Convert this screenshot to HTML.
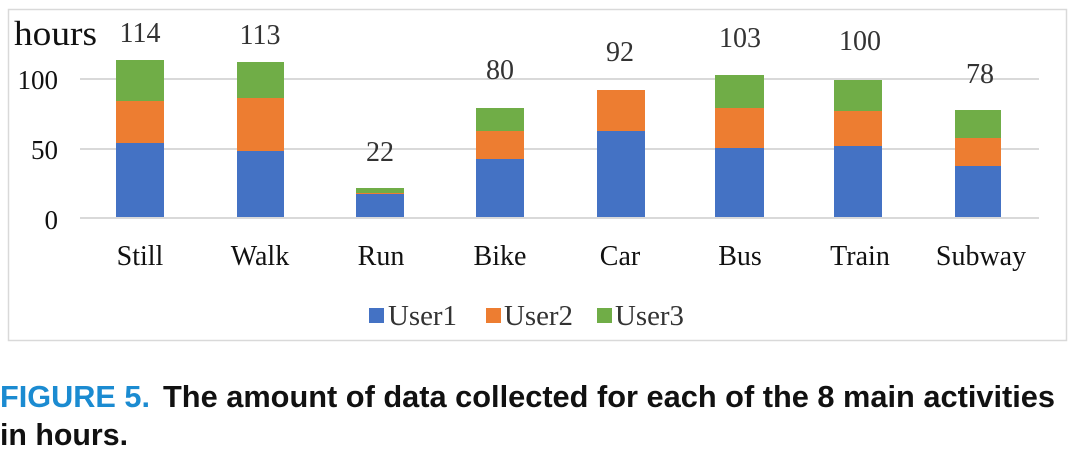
<!DOCTYPE html><html><head><style>body{margin:0;background:#fff;width:1073px;height:455px;overflow:hidden}</style></head><body>
<svg width="1073" height="455" xmlns="http://www.w3.org/2000/svg" font-family="Liberation Serif, serif">
<rect x="8.5" y="9.5" width="1058" height="331" fill="#fff" stroke="#d9d9d9" stroke-width="1.5"/>
<g stroke="#d9d9d9" stroke-width="2"><line x1="80" y1="79" x2="1039" y2="79"/><line x1="80" y1="149" x2="1039" y2="149"/><line x1="80" y1="218" x2="1039" y2="218"/></g>
<g font-size="27" fill="#111" text-anchor="end"><text x="58" y="89">100</text><text x="58" y="159">50</text><text x="58" y="229">0</text></g>
<text x="14" y="45" font-size="35" fill="#111" textLength="83" lengthAdjust="spacingAndGlyphs">hours</text>
<g>
<rect x="116" y="143" width="48" height="74" fill="#4472c4"/><rect x="116" y="101" width="48" height="42" fill="#ed7d31"/><rect x="116" y="60" width="48" height="41" fill="#70ad47"/>
<rect x="237" y="151" width="47" height="66" fill="#4472c4"/><rect x="237" y="98" width="47" height="53" fill="#ed7d31"/><rect x="237" y="62" width="47" height="36" fill="#70ad47"/>
<rect x="356" y="194" width="48" height="23" fill="#4472c4"/><rect x="356" y="193" width="48" height="1" fill="#ed7d31"/><rect x="356" y="188" width="48" height="5" fill="#70ad47"/>
<rect x="476" y="159" width="48" height="58" fill="#4472c4"/><rect x="476" y="131" width="48" height="28" fill="#ed7d31"/><rect x="476" y="108" width="48" height="23" fill="#70ad47"/>
<rect x="597" y="131" width="48" height="86" fill="#4472c4"/><rect x="597" y="90" width="48" height="41" fill="#ed7d31"/>
<rect x="715" y="148" width="49" height="69" fill="#4472c4"/><rect x="715" y="108" width="49" height="40" fill="#ed7d31"/><rect x="715" y="75" width="49" height="33" fill="#70ad47"/>
<rect x="834" y="146" width="48" height="71" fill="#4472c4"/><rect x="834" y="111" width="48" height="35" fill="#ed7d31"/><rect x="834" y="80" width="48" height="31" fill="#70ad47"/>
<rect x="955" y="166" width="46" height="51" fill="#4472c4"/><rect x="955" y="138" width="46" height="28" fill="#ed7d31"/><rect x="955" y="110" width="46" height="28" fill="#70ad47"/>
</g>
<g font-size="28" fill="#333" text-anchor="middle">
<text x="140" y="42">114</text><text x="260" y="44">113</text><text x="380" y="161">22</text><text x="500" y="79">80</text><text x="620" y="61">92</text><text x="740" y="47">103</text><text x="860" y="50">100</text><text x="980" y="83">78</text>
</g>
<g font-size="28" fill="#111" text-anchor="middle">
<text x="140" y="265">Still</text><text x="260" y="265">Walk</text><text x="381" y="265">Run</text><text x="500" y="265">Bike</text><text x="620" y="265">Car</text><text x="740" y="265">Bus</text><text x="860" y="265">Train</text><text x="981" y="265">Subway</text>
</g>
<g font-size="28" fill="#333">
<rect x="369" y="308" width="15" height="15" fill="#4472c4"/><text x="388" y="325" textLength="69" lengthAdjust="spacingAndGlyphs">User1</text>
<rect x="486" y="308" width="15" height="15" fill="#ed7d31"/><text x="504" y="325" textLength="69" lengthAdjust="spacingAndGlyphs">User2</text>
<rect x="597" y="308" width="15" height="15" fill="#70ad47"/><text x="615" y="325" textLength="69" lengthAdjust="spacingAndGlyphs">User3</text>
</g>
<g font-family="Liberation Sans, sans-serif" font-weight="bold" font-size="31">
<text x="0" y="407" fill="#1b8bd1" textLength="150" lengthAdjust="spacingAndGlyphs">FIGURE 5.</text>
<text x="163" y="407" fill="#111" textLength="892" lengthAdjust="spacingAndGlyphs">The amount of data collected for each of the 8 main activities</text>
<text x="0" y="445" fill="#111" textLength="128" lengthAdjust="spacingAndGlyphs">in hours.</text>
</g>
</svg>
</body></html>
